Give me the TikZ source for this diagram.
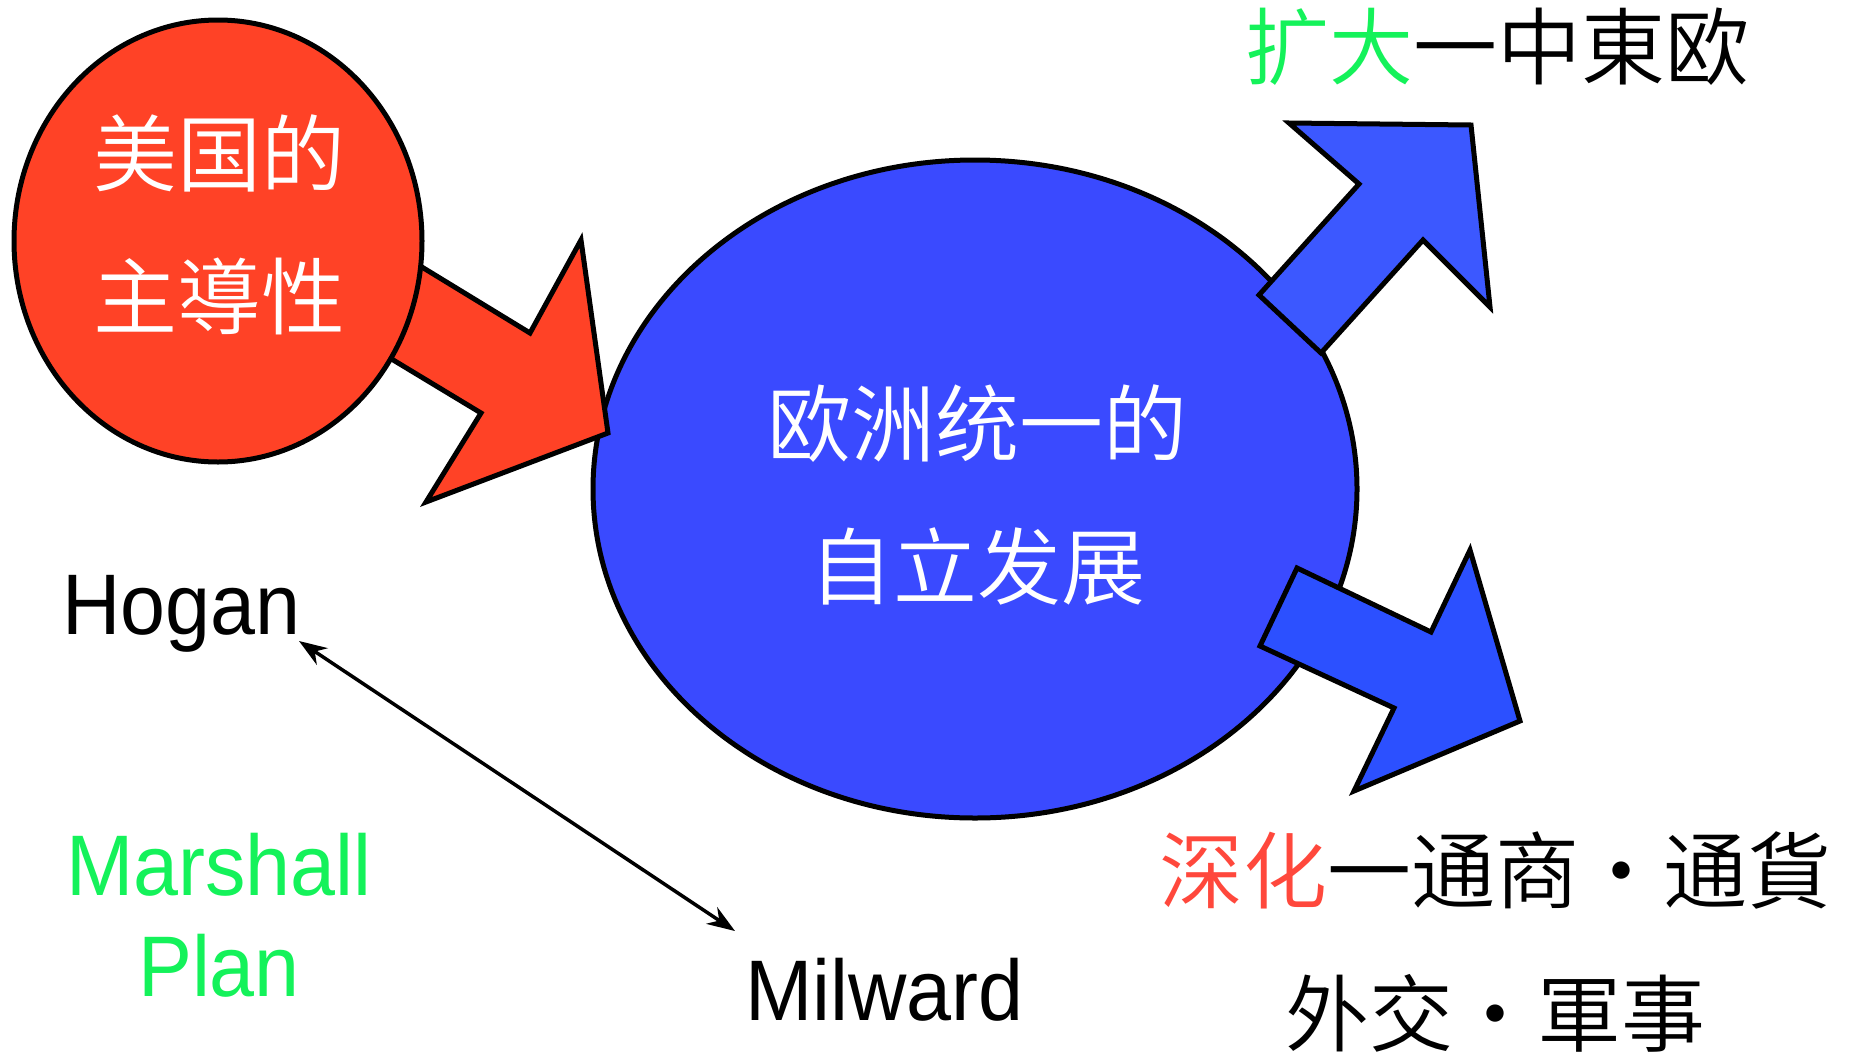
\documentclass[tikz,border=0pt]{standalone}
\usepackage{fontspec}
\usetikzlibrary{arrows.meta}
\newfontfamily\cjk{Noto Sans CJK SC DemiLight}
\newfontfamily\latinfont[FakeStretch=0.94]{Liberation Sans}
\definecolor{redfill}{RGB}{255,66,38}
\definecolor{blueell}{RGB}{58,74,255}
\definecolor{blueup}{RGB}{60,88,255}
\definecolor{bluedown}{RGB}{44,80,255}
\definecolor{brightgreen}{RGB}{20,242,90}
\definecolor{redtext}{RGB}{255,72,60}
\tikzset{
  outlined/.style={draw=black, line width=5pt, line join=miter},
  cjktext/.style={font=\cjk\fontsize{84}{143}\selectfont, align=center, inner sep=0pt},
  lattext/.style={font=\latinfont\fontsize{86}{100}\selectfont, inner sep=0pt},
}
\begin{document}
\begin{tikzpicture}[x=1pt, y=-1pt]
\useasboundingbox[fill=white] (0,0) rectangle (1859,1055);

% blue ellipse
\draw[outlined, fill=blueell] (975,489) ellipse [x radius=382, y radius=329];
% red arrow
\draw[outlined, fill=redfill] (294,189) -- (530,333) -- (581,240) -- (608,433) -- (426,502) -- (481,413) -- (264,282) -- cycle;
% red ellipse
\draw[outlined, fill=redfill] (218,241) ellipse [x radius=204, y radius=221];
% blue arrows
\draw[outlined, fill=blueup] (1259,295) -- (1359,184) -- (1289,123) -- (1471,125) -- (1490,307) -- (1423,240) -- (1321,353) -- cycle;
\draw[outlined, fill=bluedown] (1297,568) -- (1431,632) -- (1470,550) -- (1520,721) -- (1354,791) -- (1394,708) -- (1260,646) -- cycle;

% texts
\node[cjktext, text=white] (us) at (219,225) {美国的\\主導性};
\node[cjktext, text=white] (eu) at (977,495) {欧洲统一的\\自立发展};
\node[cjktext] (enl) at (1497,47) {{\color{brightgreen}扩大}一中東欧};
\node[cjktext] (deep) at (1495,942) {{\color{redtext}深化}一通商・通貨\\外交・軍事};

\node[lattext, anchor=base west] (hogan) at (62,634) {Hogan};
\node[lattext, anchor=base west] (milward) at (745,1020) {Milward};
\node[lattext, anchor=base, text=brightgreen] (marshall) at (219,895) {Marshall};
\node[lattext, anchor=base, text=brightgreen] (plan) at (219,996) {Plan};

\coordinate (hend) at (299,641);
\coordinate (mend) at (735,931);
\draw[line width=3.5pt, {Stealth[length=28pt,width=20pt]}-{Stealth[length=28pt,width=20pt]}] (hend) -- (mend);
\end{tikzpicture}
\end{document}
